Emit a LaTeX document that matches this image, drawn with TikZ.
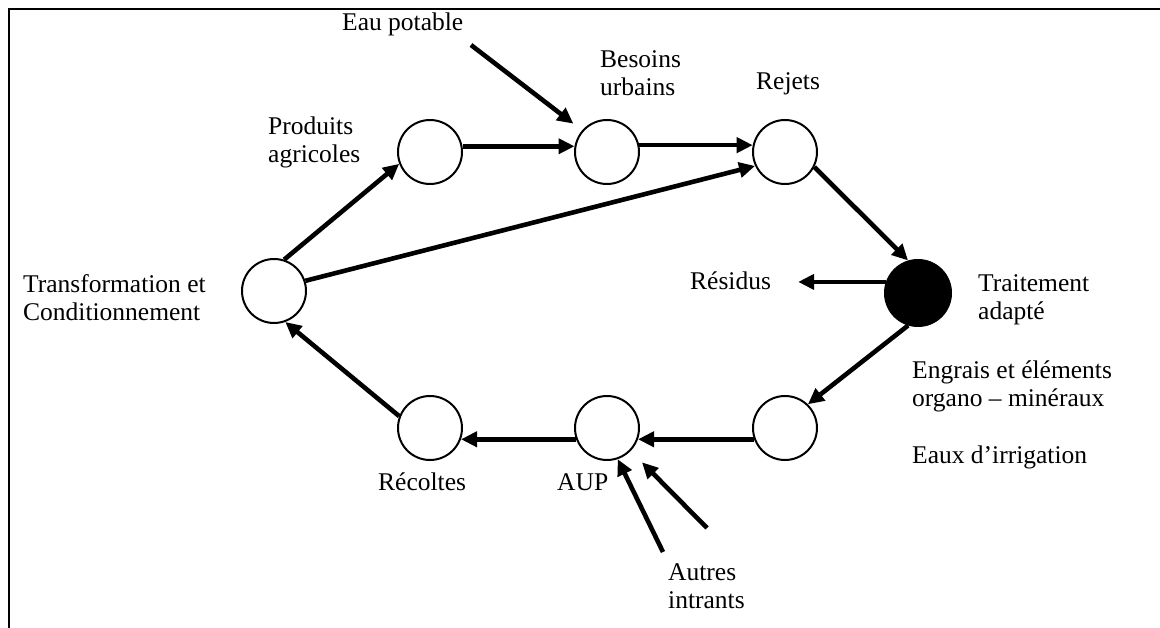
\documentclass[tikz,border=0pt]{standalone}
\usepackage{fontspec}
\setmainfont{Liberation Serif}
\usetikzlibrary{arrows.meta,calc}
\newcommand{\twoline}[1]{\begin{tabular}[t]{@{}l@{}}#1\end{tabular}}
\begin{document}
\begin{tikzpicture}[x=1pt,y=-1pt,
  stage/.style={circle,draw,line width=2pt,minimum size=64pt,inner sep=0pt},
  hub/.style={circle,draw,fill=black,line width=1pt,minimum size=67pt,inner sep=0pt},
  lbl/.style={anchor=base west,inner sep=0pt,font=\fontsize{25.5}{28}\selectfont},
  arr/.style={line width=4.6pt,-{Triangle[length=16pt,width=15pt]}},
  frame/.style={line width=2.4pt}]
\useasboundingbox (0,0) rectangle (1160,628);

% open frame: left edge and top edge only
\coordinate (fbl) at (9,628);
\coordinate (ftr) at (1160,9);
\draw[frame] (fbl) |- (ftr);

% cycle stages
\node[stage] (T) at (274,291) {};
\node[stage] (P) at (430,152) {};
\node[stage] (B) at (607,152) {};
\node[stage] (R) at (785,152) {};
\node[hub]   (K) at (918,293) {};
\node[stage] (E) at (785,428) {};
\node[stage] (A) at (607,428) {};
\node[stage] (C) at (430,428) {};

% labels
\node[lbl] (transf)   at (23,293)  {\twoline{Transformation et\\Conditionnement}};
\node[lbl] (prod)     at (268,135) {\twoline{Produits\\agricoles}};
\node[lbl] (eau)      at (342,31)  {Eau potable};
\node[lbl] (besoins)  at (600,68)  {\twoline{Besoins\\urbains}};
\node[lbl] (rejets)   at (756,90)  {Rejets};
\node[lbl] (res)      at (690,290) {Résidus};
\node[lbl] (trait)    at (978,292) {\twoline{Traitement\\adapté}};
\node[lbl] (engrais)  at (912,379) {\twoline{Engrais et éléments\\organo – minéraux}};
\node[lbl] (eaux)     at (912,463) {Eaux d’irrigation};
\node[lbl] (recoltes) at (378,490) {Récoltes};
\node[lbl] (aup)      at (557,490) {AUP};
\node[lbl] (autres)   at (668,580) {\twoline{Autres\\intrants}};

% free ends of the input arrows
\coordinate (eaustart) at (471,45);
\coordinate (in1) at (663,552);
\coordinate (in2) at (707,528);

% flows
\draw[arr] (T.72) -- (P.201);
\draw[arr] (T.18) -- (R.205);
\draw[arr] (P.10) -- (B.170);
\draw[arr] (B.12) -- (R.168);
\draw[arr] (R.-27) -- (K.107);
\draw[arr] (K.161) -- ($(K.161 -| res.east)+(27,0)$);
\draw[arr] (K.253) -- (E.46);
\draw[arr] (E.200) -- (A.340);
\draw[arr] (A.200) -- (C.340);
\draw[arr] (C.159) -- (T.-70);
\draw[arr,shorten >=11pt] (eaustart) -- (B.139);
\draw[arr] (in1) -- (A.-71);
\draw[arr,shorten >=16pt] (in2) -- (A.-44);
\end{tikzpicture}
\end{document}
